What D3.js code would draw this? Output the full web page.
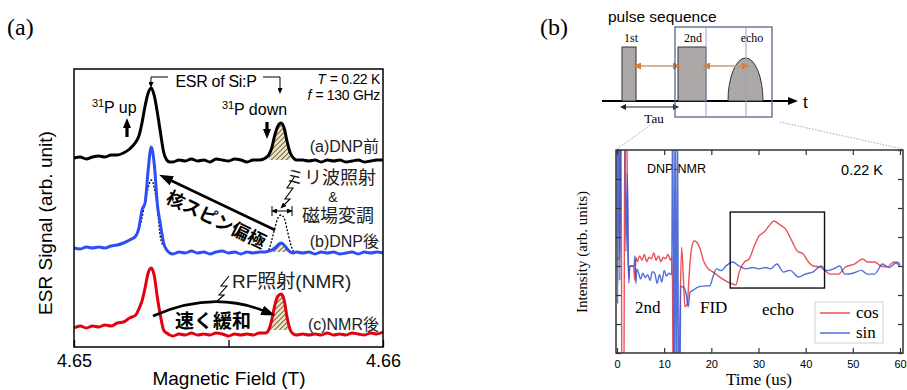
<!DOCTYPE html>
<html>
<head>
<meta charset="utf-8">
<script src="https://cdn.jsdelivr.net/npm/d3@7"></script>
<style>
  body { margin: 0; background: #fff; }
  svg { display: block; }
  .sans { font-family: "Liberation Sans", Arial, sans-serif; }
  .serif { font-family: "Liberation Serif", "Times New Roman", serif; }
  .jp { font-family: "Liberation Sans", "Noto Sans CJK JP", sans-serif; }
</style>
</head>
<body>
<script>
// ---- panel (a): ESR spectra ----
const fieldT = [4.6500,4.6502,4.6504,4.6506,4.6508,4.6510,4.6512,4.6514,4.6516,4.6518,
  4.6520,4.6521,4.6522,4.6523,4.6524,4.6525,4.6526,4.6527,4.6528,4.6529,4.6530,4.6531,4.6532,
  4.6534,4.6536,4.6538,4.6540,4.6542,4.6544,4.6546,4.6548,4.6550,4.6552,4.6554,4.6556,4.6558,4.6560,4.6562,
  4.6563,4.6564,4.6565,4.6566,4.6567,4.6568,4.6569,4.6570,4.6571,4.6572,
  4.6574,4.6576,4.6578,4.6580,4.6582,4.6584,4.6586,4.6588,4.6590,4.6592,4.6594,4.6596,4.6598,4.6600];
const esrBefore = [0,1,-1,1,2,1,3,3,5,9,
  16,22,35,52,65,70,62,45,25,6,-2,-4,-4,
  -2,-3,-1,-3,-2,-4,-1,-2,-3,-1,-2,-4,-2,-2,0,
  3,10,23,32,35,30,16,5,0,-2,
  -2,-3,-2,-4,-2,-3,-2,-4,-3,-2,-4,-3,-2,-2];
const esrAfterDNP = [2,1,3,2,3,2,4,5,7,10,
  14,22,40,47,80,103,85,45,25,7,0,-3,-4,
  -2,-3,-1,-3,-2,-4,-2,-1,-3,-2,-4,-2,-3,-2,-2,
  -1,0,2,5,7,5,1,-2,-3,-2,
  -3,-2,-4,-2,-3,-2,-4,-3,-2,-4,-2,-3,-2,-3];
const esrAfterNMR = [0,2,0,2,1,3,2,5,6,10,
  13,19,27,40,55,60,52,30,12,-2,-5,-7,-8,
  -6,-7,-5,-7,-6,-7,-5,-6,-8,-6,-7,-6,-7,-5,-5,
  -2,8,23,32,34,28,10,-2,-6,-7,
  -6,-7,-6,-7,-5,-7,-6,-7,-5,-6,-7,-5,-6,-4];
const traceOffsets = [189, 97, 19];
const traceColors = ['#000000', '#2d4ef5', '#e3000f'];
const traceLabels = ['(a)DNP前', '(b)DNP後', '(c)NMR後'];
const dotField1 = [4.6520,4.6521,4.6522,4.6523,4.6524,4.6525,4.6526,4.6527,4.6528,4.6529];
const dotVals1 = [14,20,32,48,62,70,62,42,12,4];
const dotField2 = [4.6562,4.6563,4.6564,4.6565,4.6566,4.6567,4.6568,4.6569,4.6570,4.6571,4.6572];
const dotVals2 = [-2,0,10,22,32,35,32,20,7,-1,-2];
const fieldTicks = [4.65, 4.655, 4.66];

// ---- panel (b): NMR echo ----
const cosSignal = [[0,0.2],[0.5,0.3],[0.8,6],[1.1,-6],[1.4,-6],[1.7,6],[2.0,6],[2.3,0.5],[2.5,-0.45],[2.7,0],
  [3.5,0],[3.8,-0.5],[4.0,0.3],[4.3,0.15],[4.8,0.35],[5.3,0.2],[5.8,0.4],[6.3,0.15],[6.8,0.3],[7.3,0.25],
  [7.8,0.45],[8.3,0.2],[8.8,0.35],[9.3,0.15],[9.8,0.3],[10.3,0.25],[10.8,0.4],[11.3,0.2],[11.7,0.3],[12.0,-6],
  [12.6,-6],[13.2,-3],[13.7,0.65],[14.1,-0.5],[14.4,-1.4],[14.9,-1.3],[15.3,-0.3],[15.8,0.6],[16.4,0.86],[17.0,0.8],
  [17.6,0.6],[18.3,0.2],[19.0,-0.03],[20.4,-0.21],[22.4,-0.45],[24.5,-0.62],[25.2,-0.65],[25.9,-0.21],[27.0,0.14],[28.0,0.24],
  [29.1,0.69],[30.1,1.03],[31.2,1.17],[32.2,1.38],[33.3,1.55],[34.3,1.45],[35.7,1.28],[37.1,0.86],[38.2,0.52],[39.5,0.41],
  [40.6,0.14],[41.6,0],[43.0,-0.03],[44.1,-0.16],[45.2,-0.28],[46.9,-0.28],[48.3,-0.05],[50.4,0.07],[52.1,0.24],[53.1,0.14],
  [54.6,0.14],[56.0,0],[57.3,-0.03],[58.7,0.14],[60.0,0]];
const sinSignal = [[0,4],[0.15,-1.3],[0.35,6],[0.6,-0.5],[0.8,6],[1.6,6],[1.9,0.5],[2.2,3.2],[2.5,-0.6],[2.7,0],
  [3.6,0],[3.8,0.35],[4.0,-0.6],[4.2,-0.1],[4.6,-0.25],[5.0,-0.45],[5.5,-0.25],[6.0,-0.4],[6.5,-0.3],[7.0,-0.5],
  [7.5,-0.2],[8.0,-0.25],[8.5,-0.6],[9.0,-0.3],[9.5,-0.55],[10.0,-0.15],[10.5,-0.35],[11.0,-0.25],[11.6,-0.3],[11.8,6],
  [12.1,-6],[12.3,6],[12.6,-6],[12.8,6],[13.1,-6],[13.3,-6],[13.5,-0.7],[14.2,-0.75],[14.7,-1.0],[15.1,-1.41],
  [15.5,-0.9],[16.0,-0.85],[17.3,-0.72],[18.7,-0.69],[19.7,-0.68],[20.3,-0.4],[21.1,-0.1],[22.1,-0.16],[23.1,0],[24.5,0.14],
  [25.9,0],[27.4,-0.1],[28.7,-0.05],[30.1,-0.1],[31.5,-0.05],[32.5,-0.1],[33.9,0.07],[35.3,-0.21],[36.7,-0.15],[38.5,-0.38],
  [39.9,-0.28],[41.6,-0.2],[43.3,0],[44.5,-0.16],[45.9,-0.1],[47.2,0],[48.3,-0.28],[50.0,-0.25],[51.8,-0.15],[53.1,-0.28],
  [54.6,-0.28],[56.3,0.07],[57.7,-0.05],[59.4,0.14],[60.0,0.05]];
const echoWindow = [24, 44, 1.86, -0.76];
const timeTicks = [0, 10, 20, 30, 40, 50, 60];
const intensityTicks = [-3, -2, -1, 0, 1, 2, 3, 4];
const seriesNames = ['cos', 'sin'];
const seriesColors = ['#e8333b', '#3556d0'];

const svg = d3.select('body').append('svg').attr('width', 907).attr('height', 390);
const defs = svg.append('defs');

function marker(id, color, w, h, refX) {
  defs.append('marker').attr('id', id)
    .attr('viewBox', `0 0 ${w} ${h}`).attr('refX', refX).attr('refY', h / 2)
    .attr('markerWidth', w).attr('markerHeight', h).attr('markerUnits', 'userSpaceOnUse')
    .attr('orient', 'auto-start-reverse')
    .append('path').attr('d', `M0,0L${w},${h / 2}L0,${h}Z`).attr('fill', color);
}
marker('arrBig', '#000', 14, 10, 2);
marker('arrMid', '#000', 10, 8, 2);
marker('arrSmall', '#000', 6, 5, 1);
marker('arrOrange', '#e07a30', 8, 7, 1);
marker('arrThin', '#222', 6, 6, 1);

const hatch = defs.append('pattern').attr('id', 'hatch').attr('patternUnits', 'userSpaceOnUse')
  .attr('width', 3.5).attr('height', 3.5).attr('patternTransform', 'rotate(45)');
hatch.append('rect').attr('width', 3.5).attr('height', 3.5).attr('fill', '#efe2bc');
hatch.append('line').attr('x1', 0).attr('y1', 0).attr('x2', 0).attr('y2', 3.5)
  .attr('stroke', '#222').attr('stroke-width', 1.3);

// ================= panel (a) =================
const gA = svg.append('g');
const fx = d3.scaleLinear().domain([4.65, 4.66]).range([74, 383]);
const fy = d3.scaleLinear().domain([0, 278]).range([347, 69]);

gA.append('text').attr('class', 'serif').attr('x', 7).attr('y', 35)
  .attr('font-size', 24).text('(a)');

// hatched areas under the 31P-down lines
const hatchIdx = d3.range(fieldT.length).filter(i => fieldT[i] >= 4.65625 && fieldT[i] <= 4.65705);
[esrBefore, esrAfterDNP, esrAfterNMR].forEach((vals, k) => {
  const off = traceOffsets[k];
  gA.append('path')
    .attr('d', d3.area().x(i => fx(fieldT[i])).y0(fy(off - 2)).y1(i => fy(Math.max(vals[i], -2) + off))
      .curve(d3.curveMonotoneX)(hatchIdx))
    .attr('fill', 'url(#hatch)');
});

// dotted (before DNP) lines on the DNP trace
const dotLine = (fs) => d3.line().x((d, i) => fx(fs[i])).y(d => fy(d + traceOffsets[1])).curve(d3.curveMonotoneX);
gA.append('path').attr('d', dotLine(dotField1)(dotVals1)).attr('fill', 'none')
  .attr('stroke', '#000').attr('stroke-width', 1.3).attr('stroke-dasharray', '2,1.6');
gA.append('path').attr('d', dotLine(dotField2)(dotVals2)).attr('fill', 'none')
  .attr('stroke', '#000').attr('stroke-width', 1.3).attr('stroke-dasharray', '2,1.6');

[esrBefore, esrAfterDNP, esrAfterNMR].forEach((vals, k) => {
  const line = d3.line().x((d, i) => fx(fieldT[i])).y(d => fy(d + traceOffsets[k])).curve(d3.curveMonotoneX);
  gA.append('path').attr('d', line(vals)).attr('fill', 'none')
    .attr('stroke', traceColors[k]).attr('stroke-width', 3).attr('stroke-linejoin', 'round');
});

gA.append('rect').attr('x', 74).attr('y', 69).attr('width', 309).attr('height', 278)
  .attr('fill', 'none').attr('stroke', '#000').attr('stroke-width', 1.5);

const axA = gA.append('g').attr('transform', 'translate(0,347)')
  .call(d3.axisBottom(fx).tickValues(fieldTicks).tickSizeInner(-7).tickSizeOuter(0).tickPadding(7)
    .tickFormat(d => d === 4.655 ? '' : d3.format('.2f')(d)));
axA.select('.domain').remove();
axA.selectAll('line').attr('stroke', '#000').attr('stroke-width', 1.3);
axA.selectAll('text').attr('class', 'sans').attr('font-size', 18).attr('fill', '#000');

gA.append('text').attr('class', 'sans').attr('x', 229).attr('y', 385).attr('text-anchor', 'middle')
  .attr('font-size', 19).text('Magnetic Field (T)');
gA.append('text').attr('class', 'sans').attr('transform', 'translate(52,223) rotate(-90)')
  .attr('text-anchor', 'middle').attr('font-size', 19).text('ESR Signal (arb. unit)');

// trace labels
traceLabels.forEach((t, k) => {
  gA.append('text').attr('class', 'jp').attr('x', 379).attr('y', [152, 247, 330][k])
    .attr('text-anchor', 'end').attr('font-size', 16).attr('fill', '#222').text(t);
});

// ESR of Si:P bracket
gA.append('path').attr('d', 'M168,77H151V83').attr('fill', 'none').attr('stroke', '#000')
  .attr('stroke-width', 1).attr('marker-end', 'url(#arrSmall)');
gA.append('path').attr('d', 'M263,77H280V89').attr('fill', 'none').attr('stroke', '#000')
  .attr('stroke-width', 1).attr('marker-end', 'url(#arrSmall)');
gA.append('text').attr('class', 'sans').attr('x', 216).attr('y', 87).attr('text-anchor', 'middle')
  .attr('font-size', 16).attr('letter-spacing', -0.3).text('ESR of Si:P');

// italic symbol + value, as two texts placed side by side
function paramLabel(sym, rest, y) {
  const r = gA.append('text').attr('class', 'sans').attr('x', 380).attr('y', y)
    .attr('text-anchor', 'end').attr('font-size', 14).attr('letter-spacing', -0.3).text(rest);
  const w = r.node().getComputedTextLength();
  gA.append('text').attr('class', 'sans').attr('x', 380 - w - 4).attr('y', y)
    .attr('text-anchor', 'end').attr('font-size', 14).attr('font-style', 'italic').text(sym);
}
paramLabel('T', '= 0.22 K', 84);
paramLabel('f', '= 130 GHz', 100);

function isotope(x, y, rest) {
  gA.append('text').attr('class', 'sans').attr('x', x).attr('y', y - 6).attr('font-size', 11).text('31');
  gA.append('text').attr('class', 'sans').attr('x', x + 12).attr('y', y).attr('font-size', 16).text(rest);
}
isotope(92, 113, 'P up');
isotope(222, 115, 'P down');
gA.append('line').attr('x1', 127).attr('y1', 137).attr('x2', 127).attr('y2', 126)
  .attr('stroke', '#000').attr('stroke-width', 3.2).attr('marker-end', 'url(#arrMid)');
gA.append('line').attr('x1', 267).attr('y1', 122).attr('x2', 267).attr('y2', 131)
  .attr('stroke', '#000').attr('stroke-width', 3.2).attr('marker-end', 'url(#arrMid)');

// DNP annotation
gA.append('line').attr('x1', 275).attr('y1', 230).attr('x2', 170).attr('y2', 180)
  .attr('stroke', '#000').attr('stroke-width', 2.6).attr('marker-end', 'url(#arrBig)');
gA.append('text').attr('class', 'jp').attr('transform', 'translate(216,220) rotate(26)')
  .attr('text-anchor', 'middle').attr('dominant-baseline', 'central')
  .attr('font-size', 18).attr('font-weight', 'bold').text('核スピン偏極');
gA.append('text').attr('class', 'jp').attr('x', 331).attr('y', 184).attr('text-anchor', 'middle')
  .attr('font-size', 18).attr('fill', '#222').text('ミリ波照射');
gA.append('text').attr('class', 'sans').attr('x', 333).attr('y', 202).attr('text-anchor', 'middle')
  .attr('font-size', 14).attr('fill', '#222').text('&');
gA.append('text').attr('class', 'jp').attr('x', 338).attr('y', 222).attr('text-anchor', 'middle')
  .attr('font-size', 18).attr('fill', '#222').text('磁場変調');
// modulation width bracket
gA.append('path').attr('d', 'M272,206V216M292,206V216').attr('stroke', '#000').attr('stroke-width', 1);
gA.append('line').attr('x1', 276).attr('y1', 211).attr('x2', 288).attr('y2', 211)
  .attr('stroke', '#000').attr('stroke-width', 1)
  .attr('marker-start', 'url(#arrSmall)').attr('marker-end', 'url(#arrSmall)');
// lightning bolts
gA.append('path').attr('d', 'M295,176L287,188L293,188L285,199L290,199L284,205')
  .attr('fill', 'none').attr('stroke', '#000').attr('stroke-width', 1.1).attr('marker-end', 'url(#arrSmall)');
gA.append('path').attr('d', 'M229,276L221,286L227,286L219,295L224,295L216,302')
  .attr('fill', 'none').attr('stroke', '#000').attr('stroke-width', 1.1);

// NMR annotation
gA.append('text').attr('class', 'jp').attr('x', 232).attr('y', 288)
  .attr('font-size', 19).attr('fill', '#222').text('RF照射(NMR)');
gA.append('path').attr('d', 'M153,316Q212,290 264,311').attr('fill', 'none')
  .attr('stroke', '#000').attr('stroke-width', 2.6).attr('marker-end', 'url(#arrBig)');
gA.append('text').attr('class', 'jp').attr('x', 213).attr('y', 328).attr('text-anchor', 'middle')
  .attr('font-size', 19).attr('font-weight', 'bold').text('速く緩和');

// ================= panel (b) =================
const gB = svg.append('g');
gB.append('text').attr('class', 'serif').attr('x', 540).attr('y', 35).attr('font-size', 24).text('(b)');

// pulse sequence sketch
gB.append('text').attr('class', 'sans').attr('x', 608).attr('y', 22).attr('font-size', 15.5).text('pulse sequence');
gB.append('line').attr('x1', 602).attr('y1', 101).attr('x2', 790).attr('y2', 101)
  .attr('stroke', '#000').attr('stroke-width', 2).attr('marker-end', 'url(#arrMid)');
gB.append('text').attr('class', 'sans').attr('x', 803).attr('y', 108).attr('font-size', 17).text('t');
gB.append('rect').attr('x', 622).attr('y', 47).attr('width', 14).attr('height', 54)
  .attr('fill', '#ada8a8').attr('stroke', '#333').attr('stroke-width', 1);
gB.append('rect').attr('x', 678).attr('y', 47).attr('width', 28).attr('height', 54)
  .attr('fill', '#ada8a8').attr('stroke', '#333').attr('stroke-width', 1);
gB.append('path').attr('d', 'M728,101A17.5,43 0 0 1 763,101Z')
  .attr('fill', '#ada8a8').attr('stroke', '#333').attr('stroke-width', 1);
[['1st', 631], ['2nd', 693], ['echo', 752]].forEach(([t, x]) => {
  gB.append('text').attr('class', 'serif').attr('x', x).attr('y', 42).attr('text-anchor', 'middle')
    .attr('font-size', 12).text(t);
});
[[640, 674], [709, 743]].forEach(([a, b]) => {
  gB.append('line').attr('x1', a).attr('y1', 66).attr('x2', b).attr('y2', 66)
    .attr('stroke', '#c99a78').attr('stroke-width', 1.3)
    .attr('marker-start', 'url(#arrOrange)').attr('marker-end', 'url(#arrOrange)');
});
gB.append('line').attr('x1', 625).attr('y1', 107).attr('x2', 674).attr('y2', 107)
  .attr('stroke', '#222').attr('stroke-width', 1)
  .attr('marker-start', 'url(#arrThin)').attr('marker-end', 'url(#arrThin)');
gB.append('text').attr('class', 'serif').attr('x', 654).attr('y', 123).attr('text-anchor', 'middle')
  .attr('font-size', 13).text('Tau');
gB.append('path').attr('d', 'M706,27V117M746,27V117').attr('stroke', '#93a3c8').attr('stroke-width', 1);
gB.append('rect').attr('x', 675).attr('y', 27).attr('width', 97).attr('height', 90)
  .attr('fill', 'none').attr('stroke', '#56688c').attr('stroke-width', 1.3);
gB.append('path').attr('d', 'M655,122L617,149M780,122L903,149').attr('fill', 'none')
  .attr('stroke', '#93acd8').attr('stroke-width', 1).attr('stroke-dasharray', '1.5,1.5');

// time-domain plot
const tx = d3.scaleLinear().domain([0, 60]).range([617, 900]);
const ty = d3.scaleLinear().domain([-3, 4]).range([353, 150]);

gB.append('text').attr('class', 'sans').attr('x', 647).attr('y', 173).attr('font-size', 12.5).text('DNP-NMR');
gB.append('text').attr('class', 'sans').attr('x', 883).attr('y', 175).attr('text-anchor', 'end')
  .attr('font-size', 14.5).text('0.22 K');
[['2nd', 635, 313], ['FID', 700, 313], ['echo', 762, 315]].forEach(([t, x, y]) => {
  gB.append('text').attr('class', 'serif').attr('x', x).attr('y', y).attr('font-size', 17).text(t);
});

defs.append('clipPath').attr('id', 'plotClip').append('rect')
  .attr('x', 616).attr('y', 150).attr('width', 287).attr('height', 203);
const plot = gB.append('g').attr('clip-path', 'url(#plotClip)');
const tline = d3.line().x(d => tx(d[0])).y(d => ty(d[1])).curve(d3.curveMonotoneX);
[cosSignal, sinSignal].forEach((s, k) => {
  plot.append('path').attr('d', tline(s)).attr('fill', 'none')
    .attr('stroke', seriesColors[k]).attr('stroke-width', 1.4).attr('stroke-opacity', 0.85);
});

gB.append('rect').attr('x', tx(echoWindow[0])).attr('y', ty(echoWindow[2]))
  .attr('width', tx(echoWindow[1]) - tx(echoWindow[0])).attr('height', ty(echoWindow[3]) - ty(echoWindow[2]))
  .attr('fill', 'none').attr('stroke', '#111').attr('stroke-width', 1.4);

function styleAxis(g) {
  g.select('.domain').remove();
  g.selectAll('line').attr('stroke', '#333').attr('stroke-width', 1.2);
  g.selectAll('text').attr('class', 'sans').attr('font-size', 11).attr('fill', '#000');
}
gB.append('g').attr('transform', 'translate(0,353)')
  .call(d3.axisBottom(tx).tickValues(timeTicks).tickSizeInner(-5).tickSizeOuter(0).tickPadding(7))
  .call(styleAxis);
gB.append('g').attr('transform', 'translate(0,150)')
  .call(d3.axisTop(tx).tickValues(timeTicks).tickSizeInner(-5).tickSizeOuter(0).tickFormat(''))
  .call(styleAxis);
gB.append('g').attr('transform', 'translate(616,0)')
  .call(d3.axisLeft(ty).tickValues(intensityTicks).tickSizeInner(-5).tickSizeOuter(0).tickFormat(''))
  .call(styleAxis);
gB.append('g').attr('transform', 'translate(903,0)')
  .call(d3.axisRight(ty).tickValues(intensityTicks).tickSizeInner(-5).tickSizeOuter(0).tickFormat(''))
  .call(styleAxis);
gB.append('rect').attr('x', 616).attr('y', 150).attr('width', 287).attr('height', 203)
  .attr('fill', 'none').attr('stroke', '#333').attr('stroke-width', 1.5);

// legend
gB.append('rect').attr('x', 815).attr('y', 302).attr('width', 68).attr('height', 41)
  .attr('fill', '#fff').attr('stroke', '#d0d0d0').attr('stroke-width', 1);
seriesNames.forEach((n, k) => {
  gB.append('line').attr('x1', 820).attr('x2', 850).attr('y1', 313 + k * 20).attr('y2', 313 + k * 20)
    .attr('stroke', seriesColors[k]).attr('stroke-width', 1.3);
  gB.append('text').attr('class', 'serif').attr('x', 856).attr('y', 318 + k * 20)
    .attr('font-size', 17).text(n);
});

gB.append('text').attr('class', 'serif').attr('x', 759).attr('y', 385).attr('text-anchor', 'middle')
  .attr('font-size', 17).text('Time (us)');
gB.append('text').attr('class', 'serif').attr('transform', 'translate(587,252) rotate(-90)')
  .attr('text-anchor', 'middle').attr('font-size', 15).text('Intensity (arb. units)');
</script>
</body>
</html>
